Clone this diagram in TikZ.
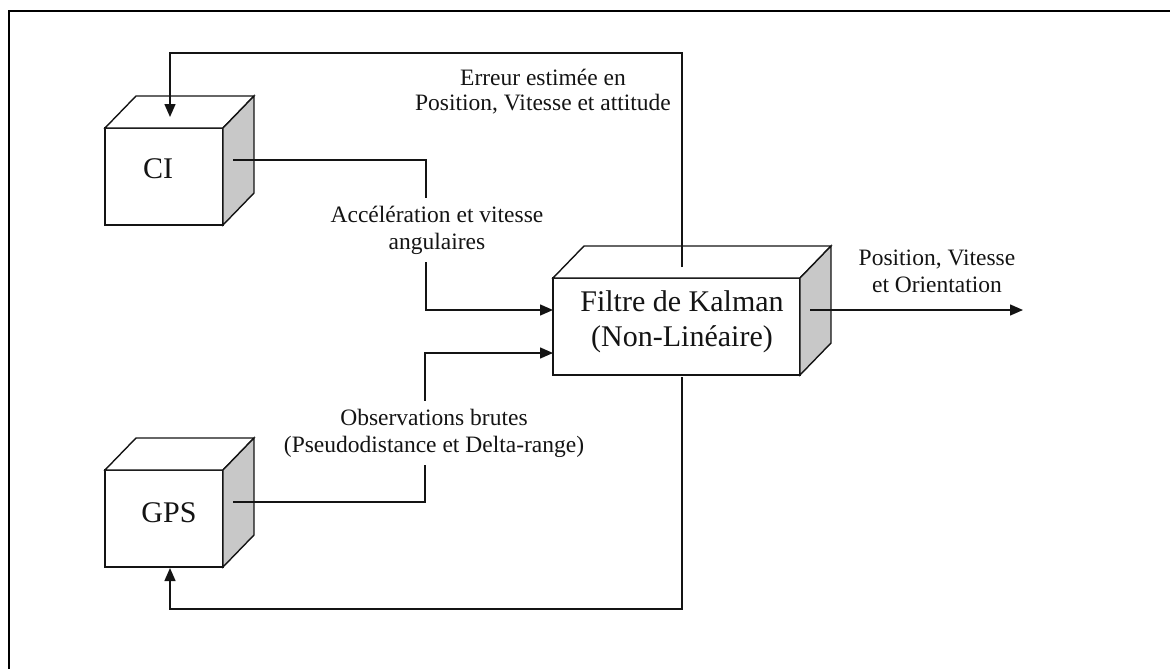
\documentclass[tikz,border=0pt]{standalone}
\usepackage{fontspec}
\setmainfont{Liberation Serif}
\usetikzlibrary{arrows.meta}
\definecolor{sidegray}{RGB}{200,200,200}
\definecolor{ink}{RGB}{20,20,20}
\tikzset{
  cubeline/.style={draw=ink, line width=1.4pt, line join=miter},
  front/.style={cubeline, fill=white, rectangle, outer sep=0pt, inner sep=0pt},
  bigtext/.style={font=\fontsize{30}{35}\selectfont, text=ink, inner sep=0pt},
  lbl/.style={font=\fontsize{23.5}{27}\selectfont, text=ink, align=center, inner xsep=2pt, inner ysep=8pt},
  flow/.style={draw=ink, line width=1.4pt, -{Triangle[length=13pt,width=11pt]}},
  wire/.style={draw=ink, line width=1.4pt}
}
% top and shaded right face of a box drawn as a cube
\newcommand\cubefaces[1]{%
  \draw[cubeline, fill=white] (#1.north west) -- ++(31,-32) -- ([shift={(31,-32)}]#1.north east) -- (#1.north east) -- cycle;
  \draw[cubeline, fill=sidegray] (#1.north east) -- ++(31,-32) -- ([shift={(31,-32)}]#1.south east) -- (#1.south east) -- cycle;
}
\begin{document}
\begin{tikzpicture}[x=1pt,y=-1pt]
\useasboundingbox (0,0) rectangle (1170,669);
% page frame (top and left edges)
\draw[line width=2pt, black] (1170,11) -- (9,11) -- (9,669);

% the three blocks
\node[front, minimum width=118pt, minimum height=97pt] (ci) at (164,176.5) {};
\cubefaces{ci}
\node[bigtext, anchor=base] (citxt) at (158,178) {CI};

\node[front, minimum width=118pt, minimum height=97pt] (gps) at (164,518.5) {};
\cubefaces{gps}
\node[bigtext, anchor=base] (gpstxt) at (169,522) {GPS};

\node[front, minimum width=247pt, minimum height=97pt] (kal) at (676.5,326.5) {};
\cubefaces{kal}
\node[bigtext, align=center] (kaltxt) at (682,322) {Filtre de Kalman\\(Non-Linéaire)};

% connector end points on the blocks
\coordinate (ci-in) at (170,117);
\coordinate (ci-out) at (233,160);
\coordinate (gps-in) at (170,568);
\coordinate (gps-out) at (233,502);
\coordinate (kal-top) at (682,267);
\coordinate (kal-bot) at (682,377);
\coordinate (kal-in1) at (553,310);
\coordinate (kal-in2) at (553,353);
\coordinate (kal-out) at (810,310);
\coordinate (res) at (1023,310);
% routing corners
\coordinate (fbtop) at (682,53);
\coordinate (fbbot) at (682,609);
\coordinate (imucol) at (426,160);
\coordinate (gpscol) at (425,502);

% feedback loops
\draw[flow] (kal-top) -- (fbtop) -| (ci-in);
\draw[flow] (kal-bot) -- (fbbot) -| (gps-in);
% measurements into the filter
\draw[flow] (ci-out) -- (imucol) |- (kal-in1);
\draw[flow] (gps-out) -- (gpscol) |- (kal-in2);
% filter output
\draw[flow] (kal-out) -- (res);

% labels
\node[lbl, fill=white] (acc) at (437,230) {Accélération et vitesse\\angulaires};
\node[lbl, fill=white] (obs) at (434,433) {Observations brutes\\(Pseudodistance et Delta-range)};
\node[lbl, font=\fontsize{23.5}{25}\selectfont] (err) at (543,92) {Erreur estimée en\\Position, Vitesse et attitude};
\node[lbl] (pvo) at (937,271) {Position, Vitesse\\et Orientation};
\end{tikzpicture}
\end{document}
